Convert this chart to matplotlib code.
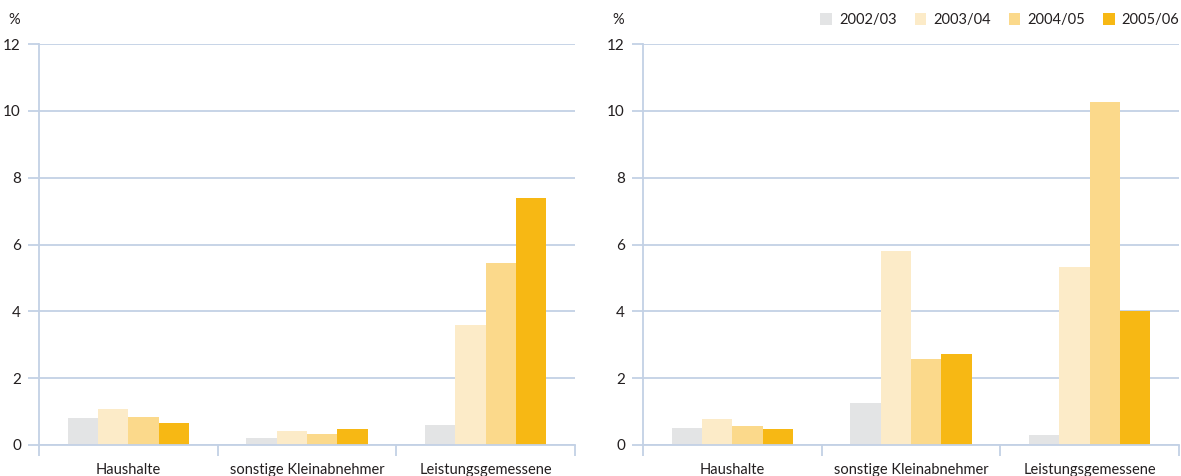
import matplotlib.pyplot as plt
from matplotlib.patches import Patch

plt.rcParams['font.family'] = ['Lato', 'DejaVu Sans']

categories = ['Haushalte', 'sonstige Kleinabnehmer', 'Leistungsgemessene']
years = ['2002/03', '2003/04', '2004/05', '2005/06']
colors = ['#e3e4e5', '#fcebc8', '#fbd98b', '#f7b814']

# linke Grafik
left_vals = [
    [0.82, 0.22, 0.61],   # 2002/03
    [1.08, 0.43, 3.59],   # 2003/04
    [0.85, 0.34, 5.46],   # 2004/05
    [0.67, 0.49, 7.40],   # 2005/06
]
# rechte Grafik
right_vals = [
    [0.52, 1.27, 0.30],
    [0.79, 5.82, 5.34],
    [0.58, 2.57, 10.27],
    [0.49, 2.72, 4.01],
]

grid_col = '#c3d1e5'
text_col = '#231f20'

W, H = 1181, 476
fig = plt.figure(figsize=(W / 100, H / 100), dpi=100)


def panel(left_px, vals):
    ax = fig.add_axes([left_px / W, 31 / H, 536 / W, 401 / H])
    n = len(categories)
    bw = 0.17
    for i, series in enumerate(vals):
        xs = [c + (i - 1.5) * bw for c in range(n)]
        ax.bar(xs, series, width=bw, color=colors[i], zorder=2, linewidth=0)
    ax.set_xlim(-0.5, n - 0.5)
    ax.set_ylim(0, 12)
    ax.set_yticks(range(0, 13, 2))
    ax.yaxis.grid(True, color=grid_col, linewidth=1.3, zorder=0)
    ax.set_axisbelow(True)
    for s in ['top', 'right']:
        ax.spines[s].set_visible(False)
    for s in ['left', 'bottom']:
        ax.spines[s].set_color(grid_col)
        ax.spines[s].set_linewidth(1.3)
    ax.tick_params(axis='y', length=8, width=1.3, color=grid_col, pad=5,
                   labelsize=11, labelcolor=text_col)
    ax.set_xticks([x - 0.5 for x in range(n + 1)])
    ax.set_xticklabels([])
    ax.tick_params(axis='x', which='major', length=8, width=1.3, color=grid_col)
    ax.set_xticks(range(n), minor=True)
    ax.set_xticklabels(categories, minor=True)
    ax.tick_params(axis='x', which='minor', length=0, pad=13,
                   labelsize=10.5, labelcolor=text_col)
    ax.spines['left'].set_bounds(0, 12)
    fig.text((left_px - 25) / W, 1 - 20 / H, '%', ha='center', va='center',
             fontsize=10.5, color=text_col)
    return ax


panel(39, left_vals)
panel(643, right_vals)

handles = [Patch(facecolor=c, edgecolor='none') for c in colors]
fig.legend(handles, years, loc='center right', bbox_to_anchor=(1.0, 1 - 20 / H),
           ncol=4, frameon=False, fontsize=10.5, handlelength=0.8,
           handleheight=0.8, handletextpad=0.5, columnspacing=1.2,
           labelcolor=text_col, borderaxespad=0, borderpad=0.1)

fig.savefig('out.png', dpi=100)
